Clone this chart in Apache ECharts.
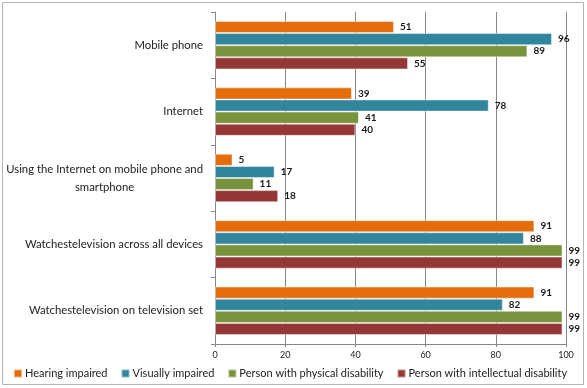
<!DOCTYPE html>
<html>
<head>
<meta charset="utf-8">
<script src="https://cdn.jsdelivr.net/npm/echarts@6/dist/echarts.min.js"></script>
<style>html,body{margin:0;padding:0;background:#fff}#c{width:587px;height:388px}</style>
</head>
<body>
<div id="c"></div>
<script>
var categories = [
  "Mobile phone",
  "Internet",
  "Using the Internet on mobile phone and smartphone",
  "Watchestelevision across all devices",
  "Watchestelevision on television set"
];
var seriesNames = ["Hearing impaired", "Visually impaired", "Person with physical disability", "Person with intellectual disability"];
var hearing = [51, 39, 5, 91, 91];
var visual = [96, 78, 17, 88, 82];
var physical = [89, 41, 11, 99, 99];
var intellectual = [55, 40, 18, 99, 99];
var colors = ["#E46C0A", "#31859C", "#77933C", "#953735"];
var xTicks = [0, 20, 40, 60, 80, 100];

var FONT = "Lato, 'Open Sans', sans-serif";
var allData = [hearing, visual, physical, intellectual];

var series = allData.map(function (d, i) {
  return {
    name: seriesNames[i],
    type: 'bar',
    data: d,
    barGap: '0%',
    barCategoryGap: '27%',
    itemStyle: { color: colors[i], borderColor: 'rgba(255,255,255,0.45)', borderWidth: 1 },
    label: {
      show: true, position: 'right', distance: 6,
      color: '#1a1a1a', fontWeight: 'bold', fontSize: 10, fontFamily: FONT
    }
  };
});

var chart = echarts.init(document.getElementById('c'), null, { renderer: 'canvas' });
chart.setOption({
  animation: false,
  backgroundColor: '#fff',
  color: colors,
  graphic: [{
    type: 'rect', silent: true, z: -1,
    shape: { x: 2.5, y: 2.5, width: 581, height: 382 },
    style: { fill: 'none', stroke: '#b4b4b4', lineWidth: 1 }
  }],
  grid: { left: 215, right: 21, top: 12, bottom: 44, containLabel: false },
  legend: {
    bottom: 4, left: 8, width: 579, padding: [5, 5, 5, 5],
    itemWidth: 8, itemHeight: 8, itemGap: 13,
    icon: 'rect',
    textStyle: { fontSize: 11, color: '#222', fontFamily: FONT, padding: [0, 0, 0, -2] },
    data: seriesNames
  },
  xAxis: {
    type: 'value', min: 0, max: 100, interval: 20,
    axisLine: { show: true, lineStyle: { color: '#868686' } },
    axisTick: { show: true, length: 3, lineStyle: { color: '#868686' } },
    axisLabel: {
      fontSize: 9, color: '#222', margin: 7, fontFamily: FONT,
      formatter: function (v) { return xTicks.indexOf(v) >= 0 ? String(v) : ''; }
    },
    splitLine: { show: true, lineStyle: { color: '#868686', width: 1 } }
  },
  yAxis: {
    type: 'category', data: categories, inverse: true,
    axisLine: { show: true, lineStyle: { color: '#868686' } },
    axisTick: { show: true, length: 4, lineStyle: { color: '#868686' } },
    axisLabel: {
      margin: 12, fontSize: 11, color: '#222', fontFamily: FONT,
      formatter: function (v) {
        var s = v.replace(' and smartphone', ' and\nsmartphone');
        return s.split('\n').map(function (l) { return '{a|' + l + '}'; }).join('\n');
      },
      rich: { a: { align: 'center', fontSize: 11.3, color: '#222', fontFamily: FONT, lineHeight: 18 } }
    }
  },
  series: series
});
</script>
</body>
</html>
